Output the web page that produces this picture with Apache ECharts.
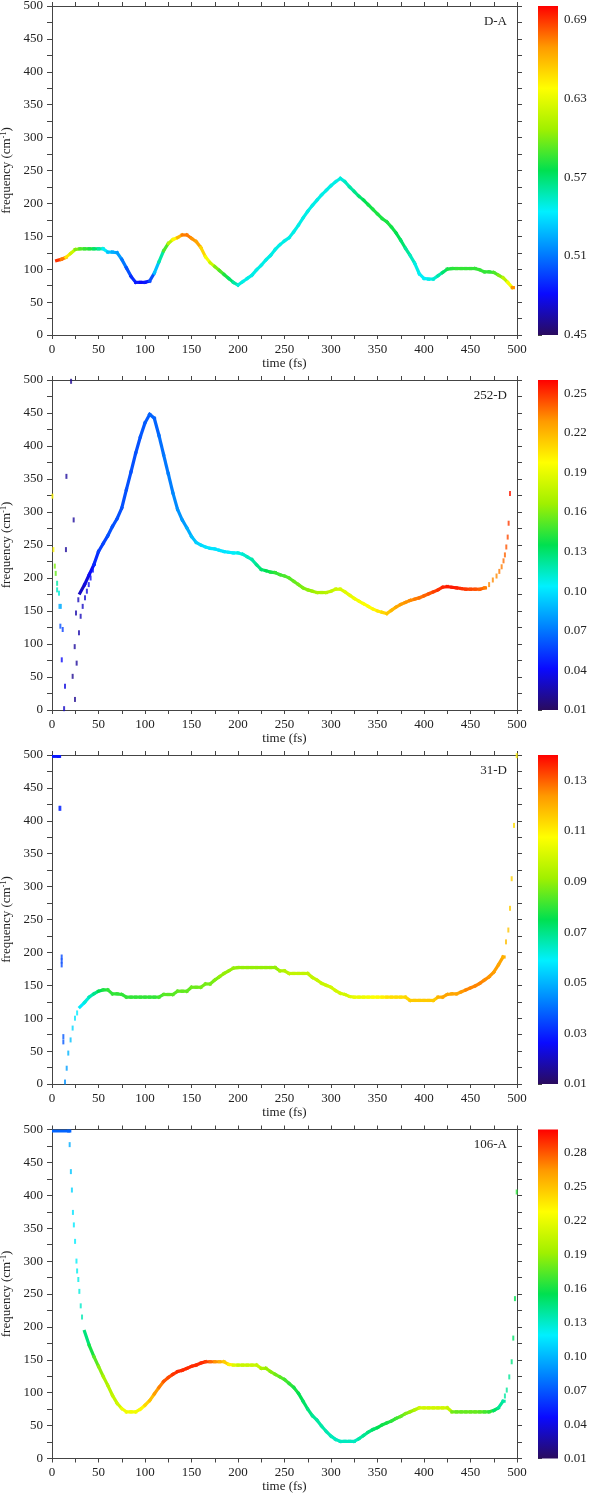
<!DOCTYPE html>
<html><head><meta charset="utf-8">
<script src="https://cdn.jsdelivr.net/npm/echarts@6/dist/echarts.min.js"></script>
<style>html,body{margin:0;padding:0;background:#fff}#c{width:593px;height:1496px}</style>
</head><body><div id="c"></div>
<script>
// ---------------- DATA ----------------
const PANEL_NAMES = ['D-A', '252-D', '31-D', '106-A'];
const X_TICKS_MAJOR = [0, 50, 100, 150, 200, 250, 300, 350, 400, 450, 500];

// colour-bar ranges and tick labels
const CB_RANGE = [[0.45, 0.70], [0.01, 0.26], [0.01, 0.14], [0.01, 0.30]];
const CB1_LABELS = [0.45, 0.51, 0.57, 0.63, 0.69];
const CB2_LABELS = [0.01, 0.04, 0.07, 0.10, 0.13, 0.16, 0.19, 0.22, 0.25];
const CB3_LABELS = [0.01, 0.03, 0.05, 0.07, 0.09, 0.11, 0.13];
const CB4_LABELS = [0.01, 0.04, 0.07, 0.10, 0.13, 0.16, 0.19, 0.22, 0.25, 0.28];
const CB_MINOR_SPLIT = [3, 2, 2, 2];

// Panel 1 : D-A
const P1_T = [5,10,15,20,25,30,35,40,45,50,55,60,65,70,75,80,85,90,95,100,105,110,115,120,125,130,135,140,145,150,155,160,165,170,175,180,185,190,195,200,205,210,215,220,225,230,235,240,245,250,255,260,265,270,275,280,285,290,295,300,305,310,315,320,325,330,335,340,345,350,355,360,365,370,375,380,385,390,395,400,405,410,415,420,425,430,435,440,445,450,455,460,465,470,475,480,485,490,495];
const P1_F = [113,115,118,124,130,131,131,131,131,131,
  131,126,126,125,115,102,89,80,80,80,
  82,94,111,128,139,145,148,152,152,147,
  142,133,119,110,104,98,92,86,80,76,
  81,86,91,99,106,114,121,130,137,143,
  148,157,167,178,188,197,205,213,220,227,
  233,238,233,225,218,211,205,198,191,184,
  177,172,164,155,144,132,121,109,93,86,
  85,85,90,95,100,101,101,101,101,101,
  101,99,96,96,95,91,87,80,72];
const P1_V = [.69,.675,.645,.62,.60,.59,.585,.58,.57,.56,
  .545,.53,.525,.52,.51,.50,.49,.485,.48,.485,
  .50,.53,.56,.59,.615,.64,.66,.675,.675,.67,
  .665,.65,.635,.62,.60,.59,.58,.57,.56,.55,
  .548,.548,.548,.548,.548,.548,.548,.548,.548,.548,
  .548,.548,.548,.548,.548,.548,.548,.548,.548,.548,
  .548,.55,.555,.56,.565,.57,.575,.578,.58,.58,
  .58,.58,.578,.575,.57,.562,.555,.548,.545,.545,
  .548,.552,.56,.57,.58,.583,.585,.585,.585,.585,
  .585,.585,.585,.585,.59,.60,.615,.635,.67];

// Panel 2 : 252-D
const P2_T = [30,35,40,45,50,55,60,65,70,75,80,85,90,95,100,105,110,115,120,125,130,135,140,145,150,155,160,165,170,175,180,185,190,195,200,205,210,215,220,225,230,235,240,245,250,255,260,265,270,275,280,285,290,295,300,305,310,315,320,325,330,335,340,345,350,355,360,365,370,375,380,385,390,395,400,405,410,415,420,425,430,435,440,445,450,455,460,465];
const P2_F = [177,190,205,220,240,252,264,278,290,306,
  334,361,389,414,435,448,442,416,387,358,
  329,304,288,276,263,254,250,247,245,244,
  242,240,239,238,238,236,232,228,220,213,
  211,209,208,205,203,200,195,190,185,182,
  180,178,178,178,180,183,183,179,174,169,
  165,161,157,153,150,148,146,151,156,160,
  163,166,168,170,173,176,179,182,186,187,
  186,185,184,183,183,183,183,185];
const P2_V = [.03,.035,.04,.05,.055,.057,.06,.06,.06,.06,
  .06,.06,.06,.062,.063,.065,.065,.068,.07,.072,
  .075,.078,.08,.085,.09,.095,.098,.10,.10,.10,
  .10,.10,.102,.105,.108,.112,.115,.12,.125,.13,
  .135,.14,.145,.148,.15,.152,.155,.158,.16,.163,
  .166,.17,.172,.175,.178,.182,.185,.188,.19,.193,
  .195,.197,.198,.20,.205,.21,.215,.22,.225,.228,
  .23,.232,.235,.237,.24,.243,.247,.25,.253,.255,
  .255,.253,.25,.248,.245,.243,.24,.235];
const P2_MARK_T = [0.5,1.5,3,4,5.5,5.5,7.5,8,9.5,9,11.5,10.5,14,13,
  15.5,15,20.5,23.3,22.2,24.4,25.8,28.3,
  24.7,26.5,29,30.8,33,35.5,37.5,39.5,41.5,44,46,
  470,474,478,481,483.5,485.5,487,488.5,490,491,492.5];
const P2_MARK_F = [324,243,218,207,192,182,177,157,157,127,122,76,36,2,
  354,243,498,288,51,96,147,167,
  16,71,117,142,157,170,180,190,200,212,222,
  190,197,203,210,217,226,235,247,262,283,328];
const P2_MARK_V = [.20,.20,.16,.155,.12,.115,.11,.085,.085,.06,.055,.04,.035,.03,
  .022,.022,.02,.022,.02,.022,.025,.028,
  .02,.022,.025,.028,.03,.032,.035,.038,.04,.045,.048,
  .232,.232,.232,.235,.235,.238,.24,.243,.245,.248,.255];

// Panel 3 : 31-D
const P3_BAR_T = [0, 7];
const P3_BAR_F = [498, 498];
const P3_BAR_V = [.028, .028];
const P3_T = [30,35,40,45,50,55,60,65,70,75,80,85,90,95,100,105,110,115,120,125,130,135,140,145,150,155,160,165,170,175,180,185,190,195,200,205,210,215,220,225,230,235,240,245,250,255,260,265,270,275,280,285,290,295,300,305,310,315,320,325,330,335,340,345,350,355,360,365,370,375,380,385,390,395,400,405,410,415,420,425,430,435,440,445,450,455,460,465,470,475,480,485];
const P3_F = [117,124,132,137,141,143,143,137,137,136,
  132,132,132,132,132,132,132,132,136,136,
  136,141,141,141,147,147,147,152,152,158,
  163,168,172,176,177,177,177,177,177,177,
  177,177,177,172,172,168,168,168,168,168,
  162,158,153,150,147,142,138,136,133,132,
  132,132,132,132,132,132,132,132,132,132,
  132,127,127,127,127,127,127,132,132,136,
  137,137,140,143,146,149,153,158,163,170,
  181,193];
const P3_V = [.058,.062,.066,.07,.075,.078,.08,.08,.08,.08,
  .08,.08,.08,.08,.08,.08,.08,.082,.084,.084,
  .084,.085,.085,.085,.086,.086,.087,.087,.087,.088,
  .09,.09,.09,.09,.09,.09,.09,.09,.09,.09,
  .09,.09,.09,.093,.095,.097,.097,.097,.097,.097,
  .097,.098,.098,.099,.10,.10,.10,.10,.102,.104,
  .104,.105,.106,.107,.108,.11,.112,.113,.113,.113,
  .114,.116,.116,.116,.116,.116,.116,.12,.122,.122,
  .122,.122,.124,.126,.126,.126,.126,.125,.124,.123,
  .122,.12];
const P3_MARK_T = [8,9,10.4,10.4,10.4,12.2,12.2,14,15.8,17.5,20,22.2,24.7,27,488.2,490.7,492.5,494.3,496.8,499.7];
const P3_MARK_F = [419,419,193,187,181,72,64,3,24,47,67,85,100,108,216,234,267,312,393,499];
const P3_MARK_V = [.03,.03,.035,.035,.035,.037,.037,.045,.047,.05,.052,.055,.057,.058,.118,.117,.116,.115,.113,.11];

// Panel 4 : 106-A
const P4_BAR_T = [0, 18];
const P4_BAR_F = [498, 498];
const P4_BAR_V = [.074, .074];
const P4_T = [35,40,45,50,55,60,65,70,75,80,85,90,95,100,105,110,115,120,125,130,135,140,145,150,155,160,165,170,175,180,185,190,195,200,205,210,215,220,225,230,235,240,245,250,255,260,265,270,275,280,285,290,295,300,305,310,315,320,325,330,335,340,345,350,355,360,365,370,375,380,385,390,395,400,405,410,415,420,425,430,435,440,445,450,455,460,465,470,475,480,485];
const P4_F = [193,172,155,140,125,111,96,84,76,71,
  71,71,75,81,88,98,108,117,123,128,
  132,134,137,140,142,145,147,147,147,147,
  147,143,142,142,142,142,142,142,137,137,
  132,128,124,120,114,108,99,87,75,65,
  58,49,41,34,29,26,26,26,26,30,
  35,40,44,47,51,54,57,61,64,68,
  71,74,77,77,77,77,77,77,77,71,
  71,71,71,71,71,71,71,71,73,77,
  87];
const P4_V = [.146,.16,.175,.187,.196,.20,.205,.21,.222,.222,
  .222,.222,.23,.242,.25,.262,.27,.28,.283,.288,
  .29,.29,.29,.29,.29,.29,.285,.275,.265,.255,
  .245,.232,.215,.207,.207,.207,.207,.205,.195,.19,
  .185,.18,.175,.17,.165,.16,.155,.15,.145,.14,
  .138,.137,.135,.133,.132,.132,.132,.132,.132,.138,
  .142,.146,.15,.155,.158,.16,.165,.17,.178,.185,
  .19,.20,.21,.21,.21,.21,.21,.21,.205,.18,
  .178,.178,.178,.178,.178,.175,.17,.165,.15,.14,
  .138];
const P4_MARK_T = [19,20.3,21.4,22.5,23.5,24.8,26.3,27,28.3,29.4,30.9,32.3,487,489,491.7,494.3,496,497.8,499.7];
const P4_MARK_F = [477,436,408,374,355,330,300,285,272,254,232,215,95,104,124,147,183,243,405];
const P4_MARK_V = [.097,.105,.11,.115,.117,.118,.12,.122,.124,.126,.13,.135,.138,.14,.14,.145,.15,.155,.165];

// ---------------- STYLE / LAYOUT ----------------
const COLORMAP = ['#2a0b5e','#0a0aff','#0080ff','#00f0ff','#00e050','#a0f000','#ffff00','#ff9a00','#ff0000'];
const FONT = 'Liberation Serif';
const AX = '#444';
const TXT = '#222';
const GRID_LEFT = 52, GRID_W = 465;
const CB_LEFT = 538, CB_W = 20;
const TOPS = [6, 380, 755, 1129.5];
const HEIGHTS = [329, 330, 329, 329];

const RIDGES = [
  [[P1_T, P1_F, P1_V]],
  [[P2_T, P2_F, P2_V]],
  [[P3_BAR_T, P3_BAR_F, P3_BAR_V], [P3_T, P3_F, P3_V]],
  [[P4_BAR_T, P4_BAR_F, P4_BAR_V], [P4_T, P4_F, P4_V]]
];
const MARKS = [
  [[], [], []],
  [P2_MARK_T, P2_MARK_F, P2_MARK_V],
  [P3_MARK_T, P3_MARK_F, P3_MARK_V],
  [P4_MARK_T, P4_MARK_F, P4_MARK_V]
];
const CB_LABELS = [CB1_LABELS, CB2_LABELS, CB3_LABELS, CB4_LABELS];

function ridgeData(runs) {
  const out = [];
  runs.forEach(([T, F, V]) => {
    for (let i = 0; i < T.length; i++) {
      const j = i + 1 < T.length ? i + 1 : i;
      out.push([T[i], F[i], V[i], T[j], F[j]]);
    }
  });
  return out;
}
function marksData([T, F, V]) { return T.map((t, i) => [t, F[i], V[i]]); }
function minorTicks(labels, split) {
  const out = [];
  for (let i = 0; i < labels.length; i++) {
    out.push(labels[i]);
    if (i + 1 < labels.length) {
      for (let k = 1; k < split; k++) out.push(+(labels[i] + (labels[i + 1] - labels[i]) * k / split).toFixed(4));
    }
  }
  return out;
}

function ridgeItem(params, api) {
  const a = api.coord([api.value(0), api.value(1)]);
  const b = api.coord([api.value(3), api.value(4)]);
  if (Math.abs(a[0] - b[0]) < 0.01 && Math.abs(a[1] - b[1]) < 0.01) b[0] += 1;
  return { type: 'line', shape: { x1: a[0], y1: a[1], x2: b[0], y2: b[1] },
    style: { stroke: api.visual('color'), lineWidth: 3.2, lineCap: 'square' } };
}

const stops = COLORMAP.map((c, i) => ({ offset: i / (COLORMAP.length - 1), color: c }));
function cbItem(params, api) {
  const top = api.coord([0, api.value(2)]);
  const bot = api.coord([0, api.value(1)]);
  const cs = params.coordSys;
  return { type: 'rect', shape: { x: cs.x, y: top[1], width: cs.width, height: bot[1] - top[1] },
    style: { fill: new echarts.graphic.LinearGradient(0, 1, 0, 0, stops) } };
}

const labelStyle = { fontFamily: FONT, fontSize: 13, color: TXT };
const grid = [], xAxis = [], yAxis = [], series = [], visualMap = [], graphic = [];

for (let p = 0; p < 4; p++) {
  grid.push({ left: GRID_LEFT, width: GRID_W, top: TOPS[p], height: HEIGHTS[p], containLabel: false, outerBoundsMode: 'none' });
  ['bottom', 'top'].forEach(pos => xAxis.push({
    type: 'value', gridIndex: p, position: pos, min: 0, max: 500, interval: 50,
    axisLine: { show: true, onZero: false, lineStyle: { color: AX, width: 1 } },
    axisTick: { show: true, inside: false, length: 4, lineStyle: { color: AX } },
    minorTick: { show: true, splitNumber: 2, length: 4, lineStyle: { color: AX } },
    splitLine: { show: false }, minorSplitLine: { show: false },
    axisLabel: Object.assign({ show: pos === 'bottom', margin: 8,
      customValues: X_TICKS_MAJOR }, labelStyle),
    name: pos === 'bottom' ? 'time (fs)' : '', nameLocation: 'middle', nameGap: 22,
    nameTextStyle: labelStyle
  }));
  ['left', 'right'].forEach(pos => yAxis.push({
    type: 'value', gridIndex: p, position: pos, min: 0, max: 500, interval: 50,
    axisLine: { show: true, onZero: false, lineStyle: { color: AX, width: 1 } },
    axisTick: { show: true, inside: false, length: 5, lineStyle: { color: AX } },
    minorTick: { show: true, splitNumber: 2, length: 5, lineStyle: { color: AX } },
    splitLine: { show: false }, minorSplitLine: { show: false },
    axisLabel: Object.assign({ show: pos === 'left', margin: 9 }, labelStyle),
    name: pos === 'left' ? 'frequency (cm{sup|-1})' : '', nameLocation: 'middle', nameGap: 35,
    nameTextStyle: Object.assign({ rich: { sup: { fontFamily: FONT, fontSize: 8, color: TXT, verticalAlign: 'top' } } }, labelStyle)
  }));
}
for (let p = 0; p < 4; p++) {
  const [mn, mx] = CB_RANGE[p];
  grid.push({ left: CB_LEFT, width: CB_W, top: TOPS[p], height: HEIGHTS[p], containLabel: false, outerBoundsMode: 'none' });
  xAxis.push({ type: 'value', gridIndex: 4 + p, min: 0, max: 1, show: false });
  yAxis.push({
    type: 'value', gridIndex: 4 + p, position: 'right', min: mn, max: mx,
    axisLine: { show: false },
    axisTick: { show: true, length: 4, customValues: minorTicks(CB_LABELS[p], CB_MINOR_SPLIT[p]), lineStyle: { color: AX } },
    axisLabel: Object.assign({ margin: 6, customValues: CB_LABELS[p], formatter: v => (+v).toFixed(2) }, labelStyle),
    splitLine: { show: false }
  });
}
for (let p = 0; p < 4; p++) {
  const base = series.length;
  series.push({
    type: 'custom', name: PANEL_NAMES[p] + ' ridge', xAxisIndex: 2 * p, yAxisIndex: 2 * p,
    renderItem: ridgeItem, data: ridgeData(RIDGES[p]), encode: { x: 0, y: 1 }, clip: true, silent: true
  });
  series.push({
    type: 'scatter', name: PANEL_NAMES[p] + ' marks', xAxisIndex: 2 * p, yAxisIndex: 2 * p,
    symbol: 'rect', symbolSize: [2, 5], data: marksData(MARKS[p]), clip: true, silent: true
  });
  series.push({
    type: 'custom', name: PANEL_NAMES[p] + ' colorbar', xAxisIndex: 8 + p, yAxisIndex: 8 + p,
    renderItem: cbItem, data: [[0, CB_RANGE[p][0], CB_RANGE[p][1]]], encode: { x: 0, y: [1, 2] }, silent: true
  });
  visualMap.push({
    type: 'continuous', show: false, seriesIndex: [base, base + 1], dimension: 2,
    min: CB_RANGE[p][0], max: CB_RANGE[p][1], inRange: { color: COLORMAP }
  });
  graphic.push({
    type: 'text', right: 593 - 507, top: TOPS[p] + 9,
    style: { text: PANEL_NAMES[p], font: '13px "Liberation Serif"', fill: TXT }
  });
}

const chart = echarts.init(document.getElementById('c'), null, { renderer: 'canvas' });
chart.setOption({ animation: false, backgroundColor: '#fff', grid, xAxis, yAxis, series, visualMap, graphic });
</script></body></html>
